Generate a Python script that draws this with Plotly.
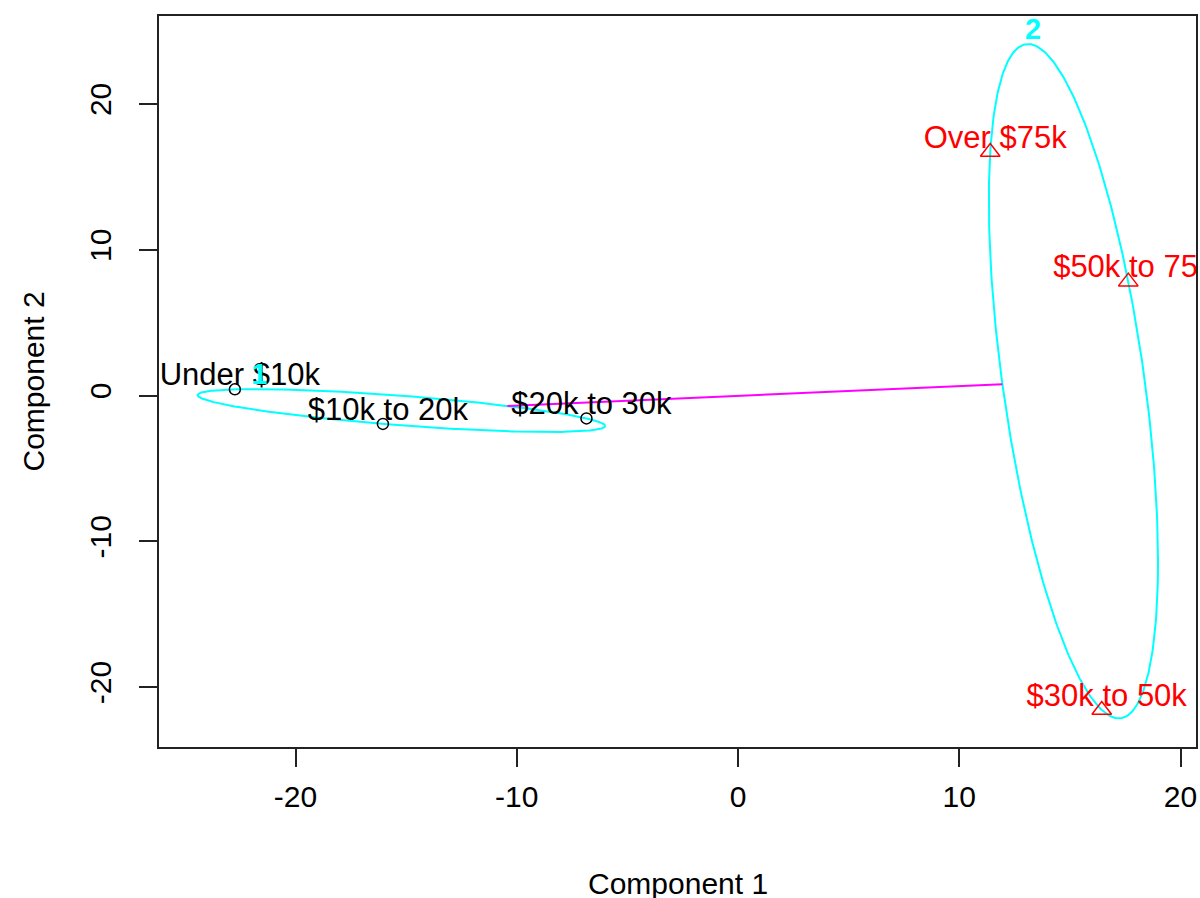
import numpy as np
import plotly.graph_objects as go

# Income groups projected onto the first two principal components
labels = ["Under $10k", "$10k to 20k", "$20k to 30k", "$30k to 50k", "$50k to 75k", "Over $75k"]
comp1 = [-22.74, -16.05, -6.85, 16.44, 17.64, 11.40]
comp2 = [0.42, -1.95, -1.57, -21.57, 7.81, 16.70]
cluster = [1, 1, 1, 2, 2, 2]

x_range = [-26.17, 20.70]
y_range = [-24.11, 26.03]
x_ticks = [-20, -10, 0, 10, 20]
y_ticks = [-20, -10, 0, 10, 20]

W, H = 1200, 898
M_L, M_R, M_T, M_B = 159, 2, 16, 151
px_x = (W - M_L - M_R) / (x_range[1] - x_range[0])
px_y = (H - M_T - M_B) / (y_range[1] - y_range[0])

FONT = "Arial, Liberation Sans, sans-serif"
CYAN, MAGENTA = "#00FFFF", "#FF00FF"

x = np.array(comp1)
y = np.array(comp2)
cl = np.array(cluster)


def spanning_ellipse(px, py):
    """Smallest ellipse through three points (Steiner circumellipse)."""
    c = np.array([px.mean(), py.mean()])
    d = np.vstack([px - c[0], py - c[1]])
    cov = d @ d.T / len(px)
    shape = 2.0 * cov
    return c, shape


fig = go.Figure()

ellipses = {}
t = np.linspace(0, 2 * np.pi, 361)
for k in (1, 2):
    m = cl == k
    c, shape = spanning_ellipse(x[m], y[m])
    ellipses[k] = (c, shape)
    L = np.linalg.cholesky(shape)
    pts = c[:, None] + L @ np.vstack([np.cos(t), np.sin(t)])
    fig.add_trace(go.Scatter(x=pts[0], y=pts[1], mode="lines",
                             line=dict(color=CYAN, width=2), hoverinfo="skip"))

# segment joining the two ellipses along the line between their centres
(c1, s1), (c2, s2) = ellipses[1], ellipses[2]
dvec = c2 - c1
t1 = 1.0 / np.sqrt(dvec @ np.linalg.inv(s1) @ dvec)
t2 = 1.0 / np.sqrt(dvec @ np.linalg.inv(s2) @ dvec)
p_start = c1 + t1 * dvec
p_end = c2 - t2 * dvec
fig.add_trace(go.Scatter(x=[p_start[0], p_end[0]], y=[p_start[1], p_end[1]],
                         mode="lines", line=dict(color=MAGENTA, width=2),
                         hoverinfo="skip"))

# points
m1 = cl == 1
m2 = cl == 2
fig.add_trace(go.Scatter(x=x[m1], y=y[m1], mode="markers",
                         marker=dict(symbol="circle-open", size=11,
                                     color="black", line=dict(width=1.5))))
fig.add_trace(go.Scatter(x=x[m2], y=y[m2], mode="markers",
                         marker=dict(symbol="triangle-up-open", size=17,
                                     color="#FF0000", line=dict(width=1.5))))

# point labels, set slightly up and right of each mark
dx = 5 / px_x
dy = 12 / px_y
lab = np.array(labels)
fig.add_trace(go.Scatter(x=x[m1] + dx, y=y[m1] + dy, mode="text", text=lab[m1],
                         textposition="middle center",
                         textfont=dict(family=FONT, size=31, color="black"),
                         cliponaxis=True))
fig.add_trace(go.Scatter(x=x[m2] + dx, y=y[m2] + dy, mode="text", text=lab[m2],
                         textposition="middle center",
                         textfont=dict(family=FONT, size=31, color="#FF0000"),
                         cliponaxis=True))

# cluster numbers at the top of each ellipse
tops_x, tops_y = [], []
for k in (1, 2):
    c, shape = ellipses[k]
    tops_x.append(c[0] + shape[0, 1] / np.sqrt(shape[1, 1]) + dx)
    tops_y.append(c[1] + np.sqrt(shape[1, 1]) + dy)
fig.add_trace(go.Scatter(x=tops_x, y=tops_y, mode="text",
                         text=["<b>1</b>", "<b>2</b>"],
                         textposition="middle center",
                         textfont=dict(family=FONT, size=29, color=CYAN),
                         cliponaxis=False))

axis_common = dict(showgrid=False, zeroline=False, showline=True, mirror=True,
                   linecolor="#222222", linewidth=2, ticks="outside", ticklen=18,
                   tickwidth=2, tickcolor="#222222",
                   tickfont=dict(family=FONT, size=30, color="black"))

fig.update_layout(
    width=W, height=H,
    margin=dict(l=M_L, r=M_R, t=M_T, b=M_B),
    paper_bgcolor="white", plot_bgcolor="white",
    showlegend=False,
    xaxis=dict(range=x_range, tickvals=x_ticks, ticktext=[str(v) for v in x_ticks],
               ticklabelstandoff=4, **axis_common),
    yaxis=dict(range=y_range, tickvals=y_ticks, ticktext=[str(v) for v in y_ticks],
               tickangle=-90, ticklabelstandoff=16, **axis_common),
    annotations=[
        dict(text="Component 1", xref="paper", yref="paper", x=0.5, y=0,
             xanchor="center", yanchor="middle", yshift=-136, showarrow=False,
             font=dict(family=FONT, size=30, color="black")),
        dict(text="Component 2", xref="paper", yref="paper", x=0, y=0.5,
             xanchor="center", yanchor="middle", xshift=-126, textangle=-90,
             showarrow=False, font=dict(family=FONT, size=30, color="black")),
    ],
)

fig.write_html("out.html")
